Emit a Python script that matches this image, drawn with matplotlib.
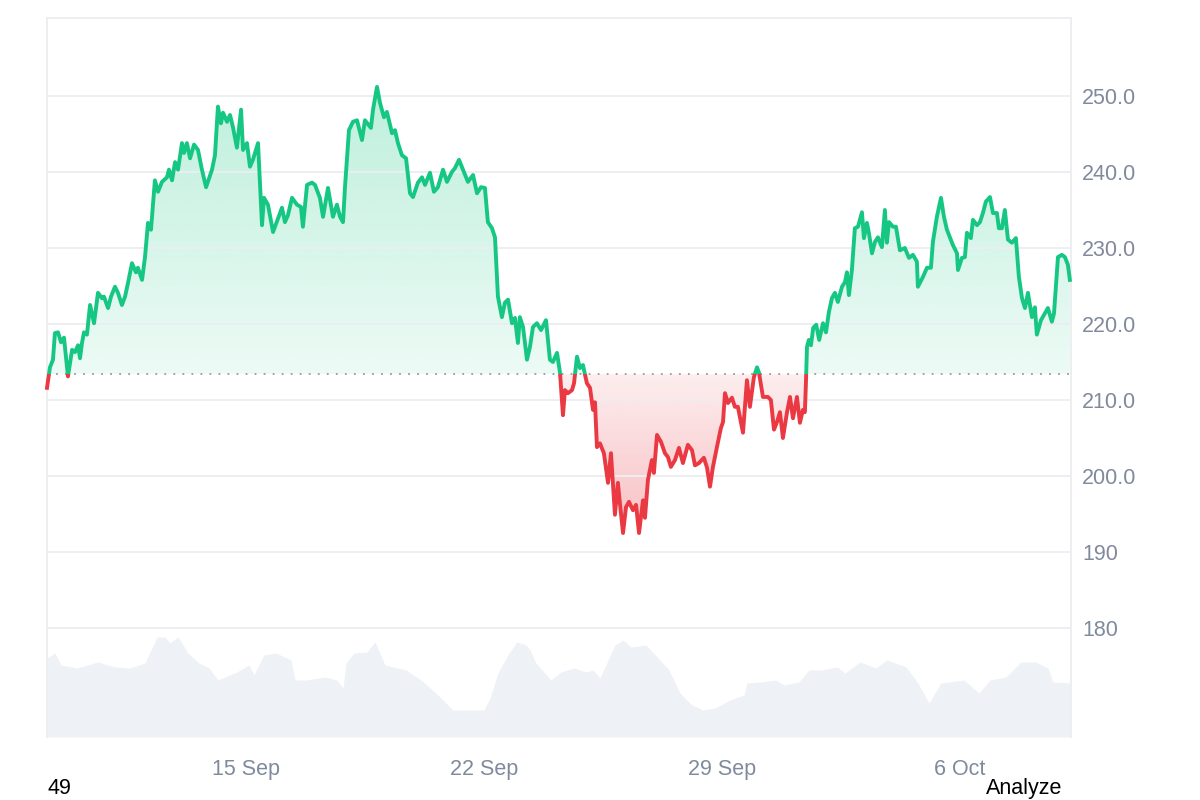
from datetime import datetime, timedelta
import numpy as np
import matplotlib
matplotlib.use("Agg")
import matplotlib.pyplot as plt
import matplotlib.dates as mdates
import matplotlib.colors as mcolors
from matplotlib.path import Path
from matplotlib.patches import Rectangle

#Price series (hours from start, price)
start = datetime(2025, 9, 9, 3, 30)
hours = [0.0, 2.1, 4.2, 5.6, 7.8, 9.9, 12.0, 14.8, 17.7, 19.8, 21.9, 23.3, 24.7, 26.1, 28.2,
         30.4, 33.2, 36.0, 38.8, 40.2, 43.1, 45.2, 48.0, 50.1, 52.9, 55.1, 57.2, 60.0, 62.8,
         64.2, 67.1, 69.2, 71.3, 73.4, 76.2, 78.4, 81.2, 84.7, 86.1, 88.3, 90.4, 92.5, 95.3,
         96.7, 98.8, 101.0, 103.8, 106.6, 109.4, 112.3, 116.5, 118.6, 120.7, 122.8, 124.3,
         127.1, 129.2, 131.3, 134.1, 137.0, 138.4, 141.2, 143.3, 145.4, 149.0, 151.8, 153.2,
         156.0, 159.6, 163.1, 165.9, 168.0, 170.1, 173.0, 176.5, 179.3, 180.7, 183.6, 187.1,
         189.2, 192.7, 194.9, 198.4, 201.9, 204.7, 206.9, 209.0, 210.4, 213.2, 216.0, 218.9,
         222.4, 224.5, 228.7, 230.2, 233.0, 235.1, 237.9, 240.0, 243.6, 245.7, 247.8, 250.6,
         253.5, 256.3, 258.4, 261.9, 264.8, 266.9, 270.4, 273.2, 276.0, 279.6, 282.4, 285.9,
         288.0, 290.9, 293.7, 297.2, 300.8, 303.6, 306.4, 309.2, 311.3, 314.2, 316.3, 318.4,
         321.2, 323.3, 325.5, 328.3, 330.4, 332.5, 333.9, 336.1, 338.9, 341.0, 343.1, 345.9,
         348.8, 352.3, 355.1, 357.2, 360.1, 362.2, 364.3, 365.7, 367.8, 370.7, 372.1, 374.2,
         376.3, 378.4, 381.2, 383.4, 385.5, 386.9, 388.3, 390.4, 393.2, 396.1, 398.2, 401.0,
         403.1, 404.5, 406.7, 408.8, 410.9, 413.7, 415.9, 418.0, 420.8, 422.2, 424.3, 427.1,
         428.5, 430.7, 433.5, 436.3, 438.4, 440.5, 443.4, 446.2, 449.0, 452.5, 455.4, 457.5,
         460.3, 463.8, 466.0, 468.1, 470.2, 473.0, 475.8, 477.3, 478.7, 480.8, 483.6, 485.7,
         487.8, 491.4, 494.2, 496.3, 499.1, 501.3, 502.7, 505.5, 509.0, 511.1, 513.3, 515.4,
         517.5, 519.6, 522.4, 524.6, 526.7, 529.5, 531.6, 533.7, 535.1, 535.8, 536.6, 537.9,
         539.4, 541.0, 543.1, 545.2, 547.9, 550.0, 552.1, 554.2, 556.3, 558.4, 561.3, 563.4,
         564.8, 566.2, 568.3, 570.4, 572.6, 575.4, 576.8, 578.9, 580.3, 582.5, 584.6, 586.7,
         589.5, 591.6, 593.0, 594.5, 597.3, 599.4, 602.2, 605.7, 608.6, 611.4, 614.2, 614.9,
         618.5, 621.3, 624.1, 625.5, 628.3, 631.2, 633.3, 635.4, 637.5, 639.6, 642.5, 643.2,
         646.0, 648.1, 649.5, 652.3, 653.8, 656.6, 658.7, 660.8, 662.9, 665.8, 667.9, 670.7,
         672.1, 674.2, 676.3, 678.5, 681.3, 684.1, 686.2, 688.4, 690.5, 692.6, 695.4, 697.5,
         698.9, 701.8, 704.6, 706.7, 709.5, 711.0, 713.8, 716.6, 718.7, 720.8, 722.2]
prices = [211.6, 214.3, 215.3, 218.8, 218.9, 217.6, 218.2, 213.1, 216.6, 216.3, 217.2, 215.5, 217.5, 218.9, 218.6,
          222.5, 220.1, 224.1, 223.4, 223.6, 222.1, 223.6, 224.9, 224.1, 222.5, 223.6, 225.4, 228.0, 226.8,
          227.4, 225.8, 228.8, 233.3, 232.4, 238.9, 237.4, 238.7, 239.3, 240.3, 238.9, 241.3, 240.3, 243.8,
          242.5, 243.8, 241.8, 243.6, 242.9, 240.3, 238.0, 240.3, 242.2, 248.6, 246.4, 247.8,
          246.6, 247.5, 245.9, 243.2, 248.2, 242.9, 243.8, 240.7, 241.6, 243.8, 233.0, 236.6,
          235.7, 232.1, 233.9, 235.3, 233.4, 234.3, 236.6, 235.7, 235.4, 232.8, 238.3, 238.6,
          238.3, 236.6, 234.1, 237.9, 234.1, 235.7, 234.1, 233.4, 238.0, 245.5, 246.6, 246.8,
          244.2, 246.8, 245.8, 248.2, 251.2, 249.1, 247.2, 247.9, 245.1, 245.5, 243.8, 242.2,
          241.8, 237.2, 236.7, 238.6, 239.3, 238.3, 239.9, 237.4, 238.0, 240.3, 238.7, 240.0,
          240.5, 241.6, 240.3, 238.7, 239.6, 237.2, 238.0, 237.9, 233.4, 232.6, 231.4, 223.6,
          220.9, 222.8, 223.2, 220.1, 220.8, 217.5, 220.9, 219.6, 215.3, 217.0, 219.6, 220.1,
          219.2, 220.5, 215.3, 215.0, 216.2, 213.6, 208.0, 211.3, 210.9, 211.3, 212.2, 215.7,
          214.2, 214.6, 212.2, 211.6, 208.7, 209.7, 203.8, 204.3, 203.0, 199.1, 203.0, 194.9,
          199.1, 196.4, 192.5, 195.9, 196.6, 195.5, 196.2, 192.5, 196.8, 194.5, 199.5, 202.1,
          200.4, 205.4, 204.5, 203.0, 202.5, 201.2, 202.1, 203.7, 201.7, 204.1, 203.4, 201.4,
          201.7, 202.4, 201.1, 198.6, 201.2, 203.8, 206.3, 207.1, 210.9, 209.6, 210.3, 209.1,
          209.1, 205.7, 212.6, 209.1, 213.0, 214.3, 213.6, 210.4, 210.4, 210.0, 206.1, 207.1,
          208.4, 205.0, 208.3, 210.4, 207.6, 210.4, 207.0, 208.7, 208.4, 212.0, 217.0, 217.9,
          217.2, 219.5, 219.9, 217.9, 220.1, 218.9, 221.6, 223.4, 224.1, 222.9, 224.9, 225.5,
          226.8, 223.8, 227.1, 232.6, 232.8, 234.7, 231.3, 233.3, 232.0, 229.3, 230.8, 231.4,
          230.1, 235.0, 230.7, 233.4, 232.8, 232.8, 229.7, 230.0, 228.7, 229.1, 228.2, 224.9,
          226.2, 227.4, 227.4, 230.8, 234.1, 236.6, 234.1, 232.4, 231.4, 230.4, 229.3, 227.1,
          228.7, 228.8, 232.0, 231.3, 233.7, 233.0, 233.4, 234.6, 236.1, 236.7, 234.6, 234.6,
          232.6, 232.6, 235.0, 231.1, 230.7, 231.3, 226.2, 223.4, 222.1, 224.1, 220.9, 222.2,
          218.6, 220.5, 221.4, 222.1, 220.3, 221.4, 228.8, 229.1, 228.8, 227.8, 225.8]
base_price = 213.4

#Volume series (hours from start, volume)
vol_hours = [0.0, 5.6, 9.9, 21.2, 36.0, 48.0, 58.6, 69.2, 77.7, 83.3, 86.8, 92.5, 99.5, 107.3,
             114.4, 120.7, 134.1, 142.6, 146.1, 153.2, 161.7, 172.3, 175.1, 182.9, 196.3, 204.7,
             209.0, 211.1, 216.7, 225.9, 231.6, 238.6, 253.5, 264.0, 274.6, 286.6, 299.3, 308.5,
             312.8, 318.4, 326.2, 331.8, 338.2, 341.0, 345.2, 355.8, 362.9, 372.1, 380.5, 385.5,
             390.4, 401.0, 406.7, 412.3, 422.9, 430.7, 439.1, 446.9, 455.4, 463.1, 471.6, 482.2,
             492.1, 494.2, 504.1, 514.7, 520.3, 530.9, 538.0, 547.2, 557.7, 563.4, 574.0, 585.3,
             593.0, 606.5, 614.9, 622.7, 631.2, 647.4, 658.0, 665.8, 677.1, 687.6, 698.2, 706.7,
             710.2, 722.9]
volumes = [7.9, 8.4, 7.2, 6.9, 7.5, 7.0, 6.9, 7.4, 10.0, 10.0, 9.4, 10.0, 8.4, 7.4,
           6.9, 5.7, 6.5, 7.2, 6.2, 8.2, 8.4, 7.7, 5.7, 5.7, 6.0, 5.7,
           4.9, 7.4, 8.4, 8.5, 9.5, 7.2, 6.7, 5.7, 4.4, 2.7, 2.7, 2.7,
           3.9, 6.4, 8.4, 9.5, 9.2, 8.7, 7.4, 5.7, 6.5, 6.9, 6.5, 6.7,
           5.9, 9.2, 9.7, 9.0, 9.2, 8.0, 6.7, 4.4, 3.2, 2.7, 2.9, 3.7,
           4.2, 5.4, 5.5, 5.7, 5.2, 5.5, 6.7, 6.7, 7.0, 6.4, 7.5, 6.9,
           7.7, 7.0, 5.4, 3.4, 5.4, 5.7, 4.4, 5.7, 6.0, 7.5, 7.5, 6.9,
           5.5, 5.4]

#Axis labels
y_ticks = [180, 190, 200, 210, 220, 230, 240, 250]
y_tick_labels = ["180", "190", "200.0", "210.0", "220.0", "230.0", "240.0", "250.0"]
x_tick_dates = [datetime(2025, 9, 15), datetime(2025, 9, 22), datetime(2025, 9, 29), datetime(2025, 10, 6)]
x_tick_labels = ["15 Sep", "22 Sep", "29 Sep", "6 Oct"]

GREEN = "#16c784"
RED = "#ea3943"
GRID = "#eceef1"
LABEL = "#808a9d"

plt.rcParams['font.family'] = ['Liberation Sans', 'DejaVu Sans']

t0 = mdates.date2num(start)
x = t0 + np.array(hours) / 24.0
y = np.array(prices)
xv = t0 + np.array(vol_hours) / 24.0
v = np.array(volumes)


def gradient_fill(ax, x, y, base, color, a_near, a_far, above):
    if above:
        coll = ax.fill_between(x, y, base, where=y >= base, interpolate=True,
                               facecolor='none', edgecolor='none')
        lo, hi = base, y.max()
        alphas = np.linspace(a_near, a_far, 256)
    else:
        coll = ax.fill_between(x, y, base, where=y <= base, interpolate=True,
                               facecolor='none', edgecolor='none')
        lo, hi = y.min(), base
        alphas = np.linspace(a_far, a_near, 256)
    img = np.zeros((256, 1, 4))
    img[:, 0, :3] = mcolors.to_rgb(color)
    img[:, 0, 3] = alphas
    im = ax.imshow(img, aspect='auto', origin='lower', extent=[x.min(), x.max(), lo, hi],
                   interpolation='bilinear', zorder=1)
    path = Path.make_compound_path(*coll.get_paths())
    im.set_clip_path(path, ax.transData)


fig = plt.figure(figsize=(12, 8), dpi=100)
rect = [47 / 1200, 63 / 800, 1024 / 1200, 719 / 800]

#Volume behind
axv = fig.add_axes(rect)
axv.fill_between(xv, v, 0, color="#eef1f5", lw=0)
axv.set_ylim(0, 71.9)
axv.set_xlim(t0, t0 + 723 / 24.0)
axv.axis('off')

ax = fig.add_axes(rect)
ax.patch.set_visible(False)

gradient_fill(ax, x, y, base_price, GREEN, 0.08, 0.28, True)
gradient_fill(ax, x, y, base_price, RED, 0.09, 0.32, False)

ax.axhline(base_price, color="#9a9a9a", lw=1.3, ls=(0, (1, 4)), zorder=2)

line_g, = ax.plot(x, y, color=GREEN, lw=2.8, zorder=3, solid_joinstyle='round')
line_r, = ax.plot(x, y, color=RED, lw=2.8, zorder=3, solid_joinstyle='round')
line_g.set_clip_path(Rectangle((t0 - 5, base_price), 60, 200, transform=ax.transData))
line_r.set_clip_path(Rectangle((t0 - 5, base_price - 200), 60, 200, transform=ax.transData))

ax.set_xlim(t0, t0 + 723 / 24.0)
ax.set_ylim(165.66, 260.26)

ax.set_yticks(y_ticks)
ax.set_yticklabels(y_tick_labels)
ax.yaxis.tick_right()
ax.set_xticks(mdates.date2num(x_tick_dates))
ax.set_xticklabels(x_tick_labels)
ax.tick_params(axis='y', length=0, pad=8, labelsize=15.5, labelcolor=LABEL)
ax.tick_params(axis='x', length=0, pad=16, labelsize=15.5, labelcolor=LABEL)
ax.grid(axis='y', color=GRID, lw=1.4, zorder=0)

for side in ['left', 'top', 'right']:
    ax.spines[side].set_color(GRID)
    ax.spines[side].set_linewidth(1.4)
ax.spines['bottom'].set_visible(False)

fig.text(48 / 1200, 0.007, "49", fontsize=15.5, color="black", va='baseline', ha='left')
fig.text(1062 / 1200, 0.007, "Analyze", fontsize=15.5, color="black", va='baseline', ha='right')

fig.savefig("out.png", dpi=100)
